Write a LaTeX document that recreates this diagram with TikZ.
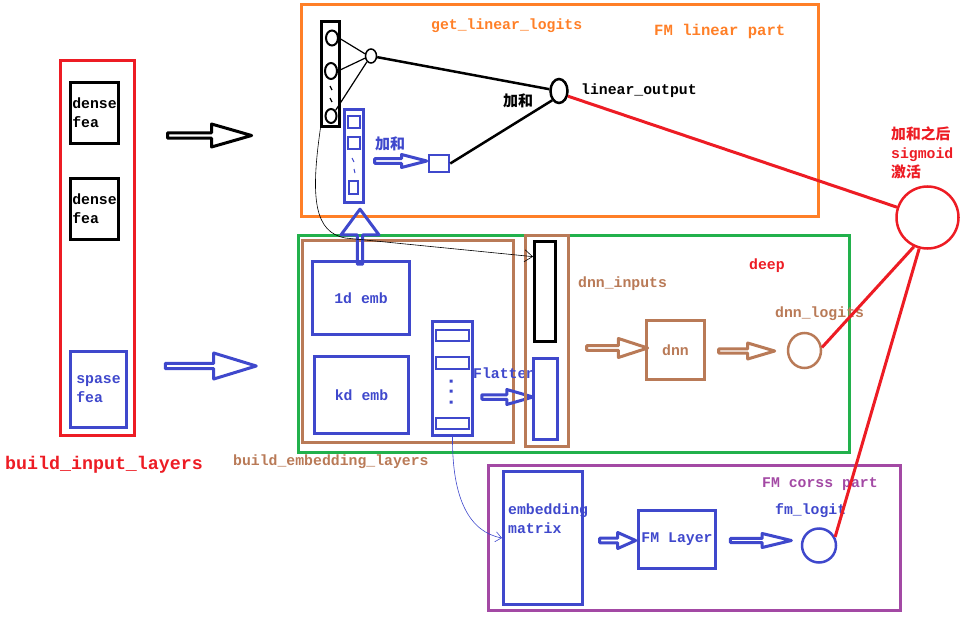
\documentclass[tikz,border=0pt]{standalone}
\usepackage{fontspec}
\setmonofont{Liberation Mono}
\newfontfamily\cjk{Noto Sans CJK SC}
\usepackage{tikz}
\usetikzlibrary{arrows.meta,shapes.arrows,shapes.geometric}
\definecolor{pred}{HTML}{ED1C24}
\definecolor{porange}{HTML}{FF7F27}
\definecolor{pgreen}{HTML}{22B14C}
\definecolor{pbrown}{HTML}{B97A57}
\definecolor{ppurple}{HTML}{A349A4}
\definecolor{pblue}{HTML}{3F48CC}

\begin{document}
\begin{tikzpicture}[x=1pt, y=-1pt,
    every node/.style={inner sep=0pt, font=\ttfamily\bfseries\fontsize{14.8}{19}\selectfont},
    box/.style 2 args={draw, line width=3pt, minimum width=#1, minimum height=#2},
    ell/.style 2 args={draw, ellipse, line width=2pt, minimum width=#1, minimum height=#2},
    fatarrow/.style n args={4}{single arrow, draw, line width=3pt, line join=round,
        minimum height=#1, minimum width=#2, single arrow head extend=#3,
        single arrow tip angle=#4, single arrow head indent=0pt},
    lbl/.style={anchor=west},
    redline/.style={draw=pred, line width=3pt},
    cjklbl/.style={anchor=west, font=\cjk\bfseries\fontsize{15}{18}\selectfont}
]
\useasboundingbox (0,0) rectangle (966,623);

% input layers
\node[box={74}{375}, draw=pred] (inp) at (97.5,248) {};
\node[box={48}{61}, align=left] (dns1) at (94.5,113) {dense\\fea};
\node[box={48}{61}, align=left] (dns2) at (94.5,209) {dense\\fea};
\node[box={56}{76}, color=pblue, align=left] (sps) at (98.5,389.5) {spase\\fea};
\node[lbl, text=pred, font=\ttfamily\bfseries\fontsize{18.3}{22}\selectfont] (tinp) at (5,465) {build\_input\_layers};
\node[fatarrow={84}{23}{5}{32}] (a1) at (205,135.5) {};
\node[fatarrow={91}{26}{6}{34}, draw=pblue] (a2) at (206.5,366) {};

% FM linear part
\node[box={517}{212}, draw=porange] (lin) at (560,110.5) {};
\node[lbl, text=porange] (tlin) at (431,26) {get\_linear\_logits};
\node[lbl, text=porange, font=\ttfamily\bfseries\fontsize{15.6}{19}\selectfont] (tlinp) at (654,31) {FM linear part};
\node[box={18}{105}] (lincol) at (330,74) {};
\node[ell={12}{15}] (e1) at (332,38) {};
\node[ell={12}{16}] (e2) at (331,71) {};
\node[ell={11}{14}] (e3) at (331,116) {};
\draw[line width=1.2pt] (330,86) -- (332,90) (330,98) -- (332,102);
\node[ell={11}{14}, line width=1.5pt] (sum1) at (371,56) {};
\node[ell={17}{24}, line width=2.5pt] (linout) at (559,91) {};
\node[lbl] (tlo) at (581,91) {linear\_output};
\node[cjklbl] (tsum1) at (503,101) {加和};
\node[box={19}{93}, draw=pblue] (sprcol) at (354,156) {};
\node[box={12}{12}, draw=pblue, line width=2.5pt] (sq1) at (354,122) {};
\node[box={12}{12}, draw=pblue, line width=2.5pt] (sq2) at (354,143) {};
\node[box={9}{13}, draw=pblue, line width=2.5pt] (sq3) at (353.5,187.5) {};
\draw[pblue, line width=1pt] (352,158) -- (354,162) (354,169) -- (355,173);
\node[cjklbl, text=pblue] (tsum2) at (375,144) {加和};
\node[fatarrow={52}{13}{2.5}{29}, draw=pblue] (a3) at (396,161) {};
\node[box={20}{17}, draw=pblue, line width=2.5pt] (sum2) at (439,163.5) {};
\draw[line width=1.2pt] (e1.east) -- (sum1.160);
\draw[line width=1.2pt] (e2.east) -- (sum1.200);
\draw[line width=1.2pt] (e3.north east) -- (sum1.235);
\draw[line width=2.5pt] (sum1) -- (linout);
\draw[line width=2.5pt] (sum2.east) -- (linout.south west);

% deep part
\node[box={551}{217}, draw=pgreen] (deep) at (574,344) {};
\node[box={211}{202}, draw=pbrown] (embl) at (408,341.5) {};
\node[lbl, text=pbrown] (tembl) at (233,462) {build\_embedding\_layers};
\node[box={97}{73}, color=pblue] (emb1) at (361,298) {1d emb};
\node[box={94}{77}, color=pblue] (embk) at (361.5,395) {kd emb};
\node[fatarrow={55}{38}{9}{73}, draw=pblue, shape border rotate=90] (a4) at (360,238.5) {};
\node[box={40}{114}, draw=pblue] (flat) at (452.5,378.5) {};
\node[box={33}{11}, draw=pblue, line width=2.5pt] (fl1) at (452.5,335.5) {};
\node[box={33}{12}, draw=pblue, line width=2.5pt] (fl2) at (452.5,363) {};
\node[box={33}{11}, draw=pblue, line width=2.5pt] (fl3) at (452.5,423.5) {};
\fill[pblue] (449.5,379.5) rectangle +(3,3) (449.5,389.5) rectangle +(3,3) (449.5,400.5) rectangle +(3,3);
\node[lbl, text=pblue] (tflat) at (473,373) {Flatten};
\node[fatarrow={51}{15}{3.5}{32}, draw=pblue] (a5) at (503.5,397) {};
\node[box={43}{211}, draw=pbrown] (dnnbox) at (547,341) {};
\node[box={21}{100}] (dnnin) at (545,291.5) {};
\node[box={24}{81}, draw=pblue] (flatout) at (545.5,399) {};
\node[lbl, text=pbrown] (tdnnin) at (578,284) {dnn\_inputs};
\node[lbl, text=pred] (tdeep) at (749,266) {deep};
\node[fatarrow={61}{19}{4.5}{36}, draw=pbrown] (a6) at (613.5,348) {};
\node[box={58}{59}, color=pbrown] (dnn) at (675.5,350) {dnn};
\node[fatarrow={56}{16}{4}{33}, draw=pbrown] (a7) at (743,351) {};
\node[ell={33}{35}, draw=pbrown, line width=2.5pt] (dnnlog) at (804.5,350.5) {};
\node[lbl, text=pbrown] (tdnnlog) at (775,314) {dnn\_logits};
\draw[line width=0.6pt, -{Straight Barb[length=8pt,width=12pt]}] (lincol.-100) .. controls (310,200) and (315,232) .. (345,238) -- (dnnin.109);

% FM cross part
\node[box={412}{145}, draw=ppurple] (fmx) at (694.5,538) {};
\node[lbl, text=ppurple] (tfmx) at (762,484) {FM corss part};
\node[box={79}{133}, draw=pblue] (emat) at (543,538) {};
\node[lbl, text=pblue, align=left] (temat) at (508,519) {embedding\\matrix};
\node[fatarrow={36}{16}{3.5}{48}, draw=pblue] (a8) at (615,540.5) {};
\node[box={77}{58}, color=pblue] (fml) at (677,539.5) {FM Layer};
\node[fatarrow={61}{14}{3.5}{27}, draw=pblue] (a9) at (756.5,540.5) {};
\node[ell={34}{34}, draw=pblue, line width=2.5pt] (fmlog) at (819,545.5) {};
\node[lbl, text=pblue] (tfmlog) at (775,511) {fm\_logit};
\draw[pblue, line width=0.6pt, -{Straight Barb[length=6pt,width=10pt]}] (flat.south) .. controls (452,500) and (470,532) .. (emat.west);

% sigmoid
\node[ell={62}{62}, draw=pred, line width=2.5pt] (sig) at (927.5,217.5) {};
\node[lbl, text=pred, align=left] (tsig) at (891,153) {{\cjk 加和之后}\\sigmoid\\{\cjk 激活}};
\draw[redline] (linout.-30) -- (sig);
\draw[redline] (sig.245) -- (dnnlog.10);
\draw[redline] (sig.255) -- (fmlog.28);
\end{tikzpicture}
\end{document}
